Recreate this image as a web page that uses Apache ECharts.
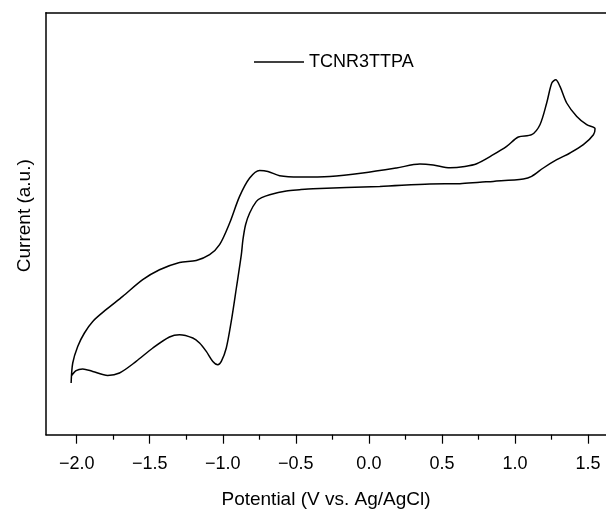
<!DOCTYPE html>
<html>
<head>
<meta charset="utf-8">
<script src="https://cdn.jsdelivr.net/npm/echarts@6/dist/echarts.min.js"></script>
<style>html,body{margin:0;padding:0;background:#fff;}#c{width:606px;height:510px;}</style>
</head>
<body>
<div id="c"></div>
<script>
// Forward branch (lower curve, left to right)
var lowerV = [-2.038,-2.004,-1.959,-1.890,-1.788,-1.707,-1.593,-1.479,-1.365,-1.296,-1.205,-1.159,-1.113,-1.068,-1.034,-1.010,-0.976,-0.942,-0.907,-0.873,-0.862,-0.844,-0.816,-0.770,-0.734,-0.679,-0.565,-0.474,-0.382,0.075,0.417,0.623,0.760,0.851,1.057,1.114,1.194,1.286,1.377,1.468,1.537,1.548];
var lowerI = [0.583,0.64,0.657,0.633,0.593,0.617,0.733,0.867,0.977,1.00,0.967,0.917,0.833,0.733,0.70,0.733,0.867,1.133,1.467,1.80,1.95,2.10,2.217,2.333,2.37,2.40,2.437,2.45,2.46,2.483,2.507,2.51,2.525,2.533,2.557,2.583,2.667,2.75,2.817,2.90,3.00,3.06];
// Return branch (upper curve, right to left)
var upperV = [1.491,1.423,1.354,1.308,1.279,1.252,1.217,1.171,1.114,1.023,0.943,0.851,0.738,0.657,0.555,0.440,0.349,0.189,-0.042,-0.268,-0.474,-0.611,-0.691,-0.748,-0.816,-0.885,-0.953,-1.022,-1.090,-1.182,-1.296,-1.433,-1.548,-1.685,-1.799,-1.890,-1.947,-1.993,-2.027,-2.038];
var upperI = [3.10,3.183,3.317,3.483,3.55,3.517,3.317,3.10,3.00,2.977,2.883,2.80,2.71,2.683,2.67,2.697,2.707,2.667,2.617,2.583,2.577,2.59,2.633,2.643,2.567,2.383,2.117,1.90,1.80,1.743,1.723,1.65,1.55,1.383,1.25,1.133,1.017,0.883,0.717,0.517];
var majorTicks = [-2.0,-1.5,-1.0,-0.5,0.0,0.5,1.0,1.5];
var minorTicks = [-1.75,-1.25,-0.75,-0.25,0.25,0.75,1.25];
var seriesName = 'TCNR3TTPA';

var data = [];
for (var i = 0; i < lowerV.length; i++) data.push([lowerV[i], lowerI[i]]);
for (var j = 0; j < upperV.length; j++) data.push([upperV[j], upperI[j]]);

var FONT = '"Liberation Sans", Arial, Helvetica, sans-serif';
var chart = echarts.init(document.getElementById('c'), null, {renderer: 'canvas'});
var xMin = -2.21, xMax = 1.623;
chart.setOption({
  animation: false,
  backgroundColor: '#fff',
  grid: {left: 46, right: 0, top: 12.7, bottom: 75.3, containLabel: false, outerBoundsMode: 'none'},
  legend: {
    data: [{name: seriesName, icon: 'rect', itemStyle: {color: '#000'}}],
    left: 249, top: 48,
    itemWidth: 50, itemHeight: 1.6,
    textStyle: {fontFamily: FONT, fontSize: 18, color: '#000'}
  },
  xAxis: [{
    type: 'value', min: xMin, max: xMax, position: 'bottom',
    name: 'Potential (V vs. Ag/AgCl)', nameLocation: 'middle', nameGap: 56,
    nameTextStyle: {fontFamily: FONT, fontSize: 19, color: '#000'},
    axisLine: {show: true, onZero: false, lineStyle: {color: '#000', width: 1.5}},
    axisTick: {show: true, length: 9, inside: false, customValues: majorTicks, lineStyle: {color: '#000', width: 1.2}},
    axisLabel: {show: true, customValues: majorTicks, margin: 20, fontFamily: FONT, fontSize: 18, color: '#000',
      formatter: function (v) { var s = Number(v).toFixed(1); return s.replace('-', '\u2212'); }},
    splitLine: {show: false}
  }, {
    type: 'value', min: xMin, max: xMax, position: 'bottom',
    axisLine: {show: false, onZero: false},
    axisTick: {show: true, length: 5, customValues: minorTicks, lineStyle: {color: '#000', width: 1.2}},
    axisLabel: {show: false},
    splitLine: {show: false}
  }, {
    type: 'value', min: xMin, max: xMax, position: 'top',
    axisLine: {show: true, onZero: false, lineStyle: {color: '#000', width: 1.5}},
    axisTick: {show: false}, axisLabel: {show: false}, splitLine: {show: false}
  }],
  yAxis: {
    type: 'value', min: 0, max: 4.22,
    name: 'Current (a.u.)', nameLocation: 'middle', nameGap: 12,
    nameTextStyle: {fontFamily: FONT, fontSize: 19, color: '#000', padding: [0, 0, 0, 16]},
    axisLine: {show: true, onZero: false, lineStyle: {color: '#000', width: 1.5}},
    axisTick: {show: false}, axisLabel: {show: false}, splitLine: {show: false}
  },
  series: [{
    name: seriesName, type: 'line', xAxisIndex: 0, data: data,
    showSymbol: false, symbol: 'none', smooth: 0.3,
    lineStyle: {color: '#000', width: 1.5},
    itemStyle: {color: '#000'}
  }]
});
</script>
</body>
</html>
